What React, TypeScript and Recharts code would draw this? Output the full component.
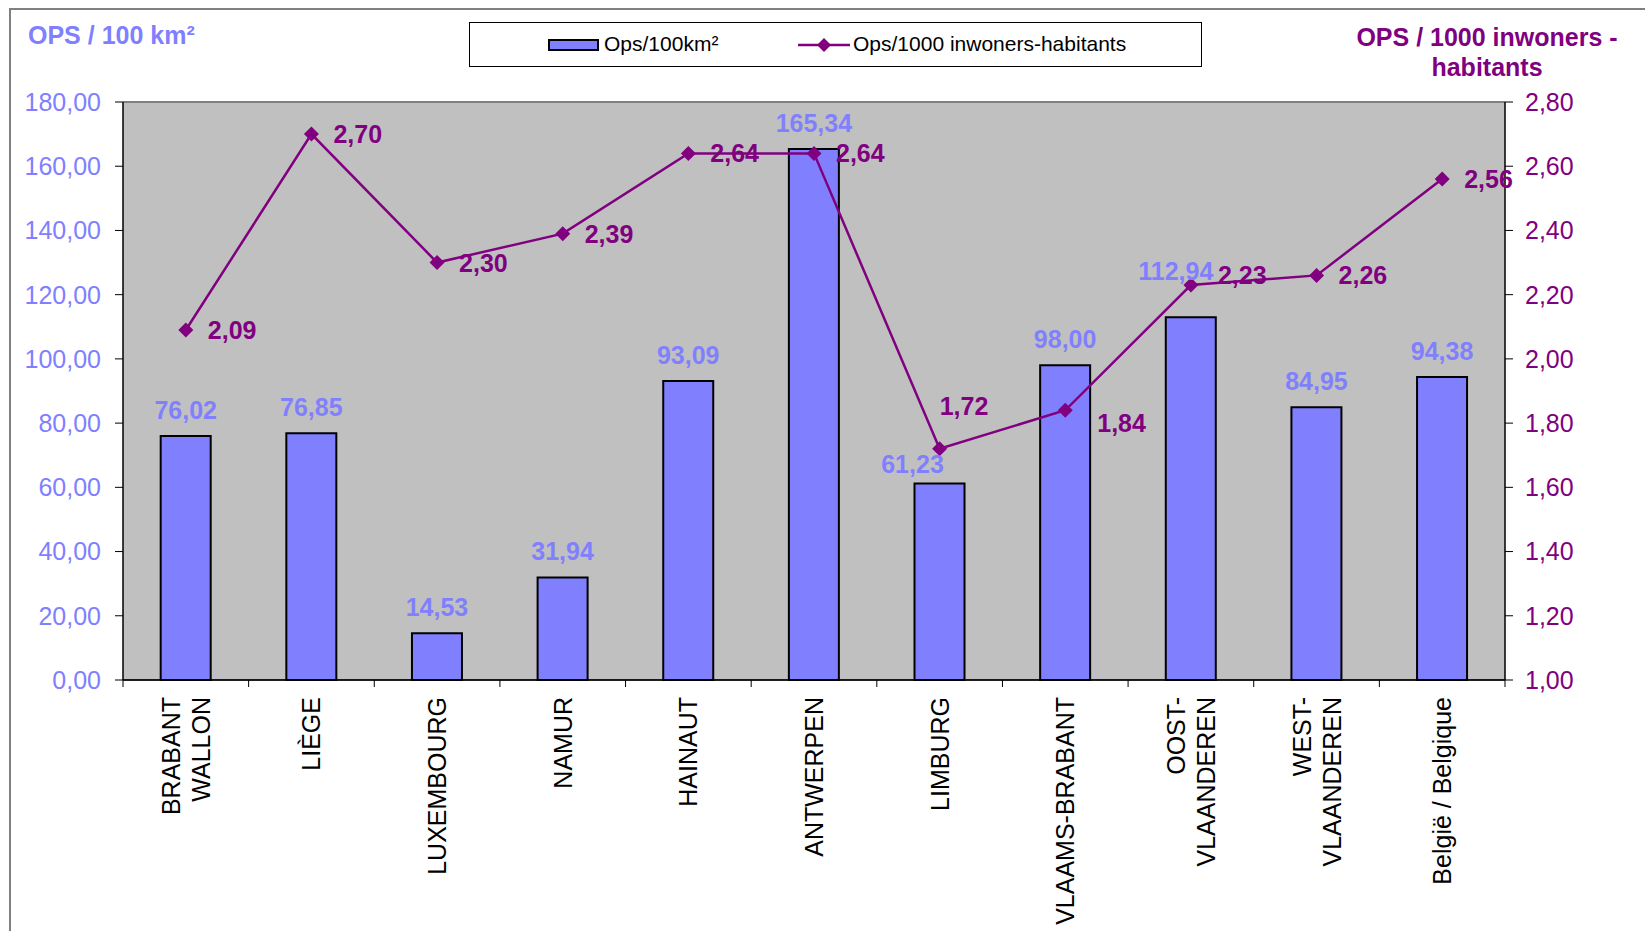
import { ComposedChart, Bar, Line, XAxis, YAxis, CartesianGrid, LabelList, ReferenceLine } from "recharts";

const categories = [
  "BRABANT\nWALLON",
  "LIÈGE",
  "LUXEMBOURG",
  "NAMUR",
  "HAINAUT",
  "ANTWERPEN",
  "LIMBURG",
  "VLAAMS-BRABANT",
  "OOST-\nVLAANDEREN",
  "WEST-\nVLAANDEREN",
  "België / Belgique",
];
const opsPer100km = [76.02, 76.85, 14.53, 31.94, 93.09, 165.34, 61.23, 98.0, 112.94, 84.95, 94.38];
const opsPer1000 = [2.09, 2.7, 2.3, 2.39, 2.64, 2.64, 1.72, 1.84, 2.23, 2.26, 2.56];
const leftTicks = [0, 20, 40, 60, 80, 100, 120, 140, 160, 180];
const rightTicks = [1.0, 1.2, 1.4, 1.6, 1.8, 2.0, 2.2, 2.4, 2.6, 2.8];

const data = categories.map((name, i) => ({ name, area: opsPer100km[i], inhab: opsPer1000[i] }));

const W = 1645;
const H = 931;
const BLUE = "#8080FF";
const PURPLE = "#800080";
const FONT = "'Liberation Sans', Arial, sans-serif";
const PLOT_LEFT = 123;
const PLOT_RIGHT = 1505;
const BAND = (PLOT_RIGHT - PLOT_LEFT) / categories.length;

const comma = (v: number) => v.toFixed(2).replace(".", ",");

// a few labels were moved by hand in the original (Excel) chart
const lineLabelShift: Record<number, [number, number]> = { 6: [0, -43], 7: [32, 13], 8: [27, -10] };
const barLabelShift: Record<number, [number, number]> = { 6: [-27, 7], 8: [-15, -20] };

function CategoryTick({ x, y, payload, index }: any) {
  const lines = String(payload.value).split("\n");
  const half = BAND / 2;
  const top = y + 17;
  return (
    <g>
      <line x1={x - half} x2={x - half} y1={y} y2={y + 7} stroke="#000" />
      {index === categories.length - 1 && <line x1={x + half} x2={x + half} y1={y} y2={y + 7} stroke="#000" />}
      {lines.map((ln, i) => {
        const lx = x + (i - (lines.length - 1) / 2) * 30;
        return (
          <text
            key={i}
            x={0}
            y={0}
            dy="0.36em"
            transform={`translate(${lx},${top}) rotate(-90)`}
            textAnchor="end"
            fontSize={25}
            fill="#000"
            fontFamily={FONT}
          >
            {ln}
          </text>
        );
      })}
    </g>
  );
}

function Diamond({ cx, cy, index }: any) {
  if (cx == null || cy == null) return <g key={index} />;
  const r = 7.5;
  return <path key={index} d={`M${cx},${cy - r}L${cx + r},${cy}L${cx},${cy + r}L${cx - r},${cy}Z`} fill={PURPLE} />;
}

function LineLabel(props: any) {
  const x = props.x ?? props.viewBox?.x;
  const y = props.y ?? props.viewBox?.y;
  const [dx, dy] = lineLabelShift[props.index] ?? [22, 0];
  return (
    <text x={x + dx} y={y + dy} dy="0.36em" fill={PURPLE} fontSize={25} fontWeight="bold" fontFamily={FONT}>
      {comma(Number(props.value))}
    </text>
  );
}

function BarLabel(props: any) {
  const vb = props.viewBox ?? props;
  const x = vb.x + vb.width / 2;
  const y = vb.y;
  const [dx, dy] = barLabelShift[props.index] ?? [0, 0];
  return (
    <text
      x={x + dx}
      y={y - 17 + dy}
      textAnchor="middle"
      fill={BLUE}
      fontSize={25}
      fontWeight="bold"
      fontFamily={FONT}
    >
      {comma(Number(props.value))}
    </text>
  );
}

export default function App() {
  return (
    <div style={{ position: "relative", width: W, height: H, overflow: "hidden", background: "#fff", fontFamily: FONT }}>
      <style>{"body{margin:0}"}</style>
      <div
        style={{
          position: "absolute",
          left: 9,
          top: 8,
          width: W,
          height: H,
          borderTop: "2px solid #808080",
          borderLeft: "2px solid #808080",
        }}
      />
      <div style={{ position: "absolute", left: 28, top: 21, fontSize: 25, fontWeight: "bold", color: BLUE }}>
        OPS / 100 km²
      </div>
      <div
        style={{
          position: "absolute",
          left: 1487 - 170,
          width: 340,
          top: 22,
          fontSize: 25,
          fontWeight: "bold",
          color: PURPLE,
          textAlign: "center",
          lineHeight: "30px",
        }}
      >
        OPS / 1000 inwoners -<br />habitants
      </div>
      <div
        style={{
          position: "absolute",
          left: 469,
          top: 22,
          width: 733,
          height: 45,
          border: "1px solid #000",
          boxSizing: "border-box",
          background: "#fff",
          fontSize: 21,
        }}
      >
        <div
          style={{
            position: "absolute",
            left: 78,
            top: 16,
            width: 51,
            height: 12,
            background: BLUE,
            border: "2px solid #000",
            boxSizing: "border-box",
          }}
        />
        <div style={{ position: "absolute", left: 134, top: 9, lineHeight: "24px" }}>Ops/100km²</div>
        <svg style={{ position: "absolute", left: 328, top: 12 }} width={52} height={20}>
          <line x1={0} x2={52} y1={10} y2={10} stroke={PURPLE} strokeWidth={2.5} />
          <path d="M26,3L33,10L26,17L19,10Z" fill={PURPLE} />
        </svg>
        <div style={{ position: "absolute", left: 383, top: 9, lineHeight: "24px" }}>Ops/1000 inwoners-habitants</div>
      </div>
      <div style={{ position: "absolute", left: 0, top: 0 }}>
        <ComposedChart
          width={W}
          height={H}
          data={data}
          margin={{ top: 102, right: 0, left: 23, bottom: 0 }}
          barCategoryGap="30%"
          style={{ fontFamily: FONT }}
        >
          <CartesianGrid vertical={false} stroke="#000" fill="#C0C0C0" fillOpacity={1} />
          <XAxis
            dataKey="name"
            height={251}
            interval={0}
            tickSize={0}
            tickMargin={0}
            tickLine={false}
            axisLine={{ stroke: "#000", strokeWidth: 1.5 }}
            tick={<CategoryTick />}
          />
          <YAxis
            yAxisId="left"
            width={100}
            domain={[0, 180]}
            ticks={leftTicks}
            tickFormatter={comma}
            tickSize={8}
            tickMargin={14}
            tick={{ fill: BLUE, fontSize: 25 }}
            tickLine={{ stroke: "#000" }}
            axisLine={{ stroke: "#000", strokeWidth: 1.5 }}
          />
          <YAxis
            yAxisId="right"
            orientation="right"
            width={140}
            domain={[1, 2.8]}
            ticks={rightTicks}
            tickFormatter={comma}
            tickSize={8}
            tickMargin={12}
            tick={{ fill: PURPLE, fontSize: 25 }}
            tickLine={{ stroke: "#000" }}
            axisLine={{ stroke: "#000", strokeWidth: 1.5 }}
          />
          <ReferenceLine yAxisId="left" y={180} stroke="#808080" strokeWidth={2} />
          <Bar yAxisId="left" dataKey="area" fill={BLUE} stroke="#000" strokeWidth={2} isAnimationActive={false}>
            <LabelList dataKey="area" content={<BarLabel />} />
          </Bar>
          <Line
            yAxisId="right"
            dataKey="inhab"
            stroke={PURPLE}
            strokeWidth={2.5}
            dot={<Diamond />}
            activeDot={false}
            isAnimationActive={false}
          >
            <LabelList dataKey="inhab" content={<LineLabel />} />
          </Line>
        </ComposedChart>
      </div>
    </div>
  );
}
